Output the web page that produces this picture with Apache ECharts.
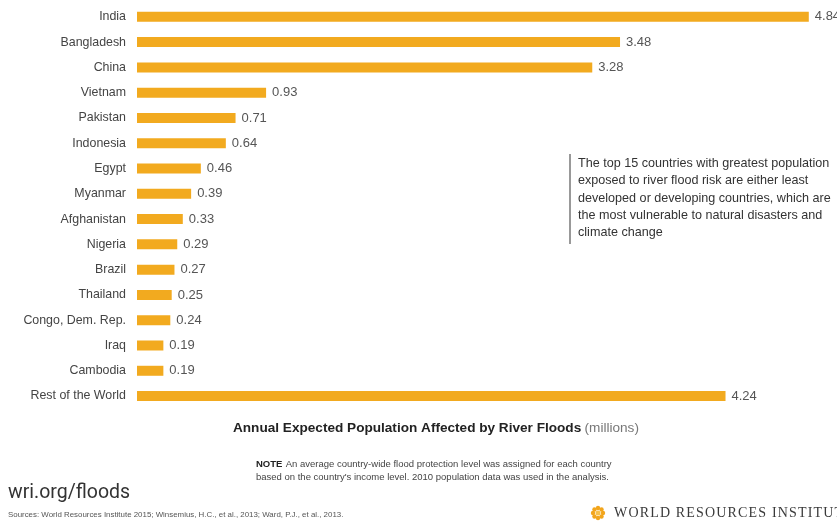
<!DOCTYPE html>
<html>
<head>
<meta charset="utf-8">
<script src="https://cdn.jsdelivr.net/npm/echarts@6/dist/echarts.min.js"></script>
<style>
html,body{margin:0;padding:0;background:#fff;}
#chart{width:837px;height:522px;}
</style>
</head>
<body>
<div id="chart"></div>
<script>
const countries = ['India','Bangladesh','China','Vietnam','Pakistan','Indonesia','Egypt','Myanmar','Afghanistan','Nigeria','Brazil','Thailand','Congo, Dem. Rep.','Iraq','Cambodia','Rest of the World'];
const affected = [4.84,3.48,3.28,0.93,0.71,0.64,0.46,0.39,0.33,0.29,0.27,0.25,0.24,0.19,0.19,4.24];
const axisTitle = 'Annual Expected Population Affected by River Floods';
const axisUnit = '(millions)';
const noteLines = ["An average country-wide flood protection level was assigned for each country", "based on the country's income level. 2010 population data was used in the analysis."];
const annotationLines = ['The top 15 countries with greatest population','exposed to river flood risk are either least','developed or developing countries, which are','the most vulnerable to natural disasters and','climate change'];
const logoText = 'WORLD RESOURCES INSTITUTE';

const FONT = "'Liberation Sans Narrow','Arial Narrow','Liberation Sans',sans-serif";
const chart = echarts.init(document.getElementById('chart'));

const logoDots = [];
for (let i = 0; i < 8; i++) {
  const a = i * Math.PI / 4;
  logoDots.push({type:'circle', shape:{cx:598 + 5*Math.cos(a), cy:513 + 5*Math.sin(a), r:2.2}, style:{fill:'#F2A51C'}});
}
logoDots.push({type:'circle', shape:{cx:598, cy:513, r:2.5}, style:{fill:'#F7C04A'}});

chart.setOption({
  animation:false,
  grid:{left:137, right:6, top:4.2, bottom:113.3, containLabel:false},
  xAxis:{type:'value', min:0, max:5, show:false},
  yAxis:{
    type:'category', data:countries, inverse:true,
    axisLine:{show:false}, axisTick:{show:false}, splitLine:{show:false},
    axisLabel:{color:'#444', fontFamily:FONT, fontSize:12.4, margin:11}
  },
  series:[{
    type:'bar', data:affected, barWidth:10,
    itemStyle:{color:'#F2AA1F'},
    label:{show:true, position:'right', distance:6, color:'#555', fontFamily:FONT, fontSize:13,
      formatter:p=>p.value.toFixed(2)}
  }],
  graphic:[
    {type:'rect', shape:{x:569, y:154, width:2, height:90}, style:{fill:'#999'}},
    {type:'text', left:578, top:155, style:{text:annotationLines.join('\n'), fontFamily:FONT, fontSize:12.6, lineHeight:17.3, fill:'#333'}},
    {type:'text', left:233, top:421, style:{
      text:'{b|'+axisTitle+'} {n|'+axisUnit+'}',
      rich:{b:{fontFamily:FONT, fontSize:13.6, fontWeight:'bold', fill:'#222', color:'#222'}, n:{fontFamily:FONT, fontSize:13.6, fill:'#777', color:'#777'}}
    }},
    {type:'text', left:256, top:458, style:{
      text:'{b|NOTE} {n|'+noteLines[0]+'}\n{n|'+noteLines[1]+'}',
      rich:{b:{fontFamily:FONT, fontSize:9.5, fontWeight:'bold', fill:'#222', color:'#222', lineHeight:13}, n:{fontFamily:FONT, fontSize:9.5, fill:'#444', color:'#444', lineHeight:13}}
    }},
    {type:'text', left:8, top:483, style:{text:'wri.org/floods', fontFamily:"Roboto,'Liberation Sans',sans-serif", fontSize:19.5, fill:'#333'}},
    {type:'text', left:8, top:511, style:{text:'Sources: World Resources Institute 2015; Winsemius, H.C., et al., 2013; Ward, P.J., et al., 2013.', fontFamily:FONT, fontSize:7.9, fill:'#555'}},
    ...logoDots,
    {type:'text', left:614, top:506, style:{text:logoText.split('').join('\u200A'), fontFamily:"'Liberation Serif','DejaVu Serif',serif", fontSize:14, fill:'#3a3a3a'}}
  ]
});
</script>
</body>
</html>
